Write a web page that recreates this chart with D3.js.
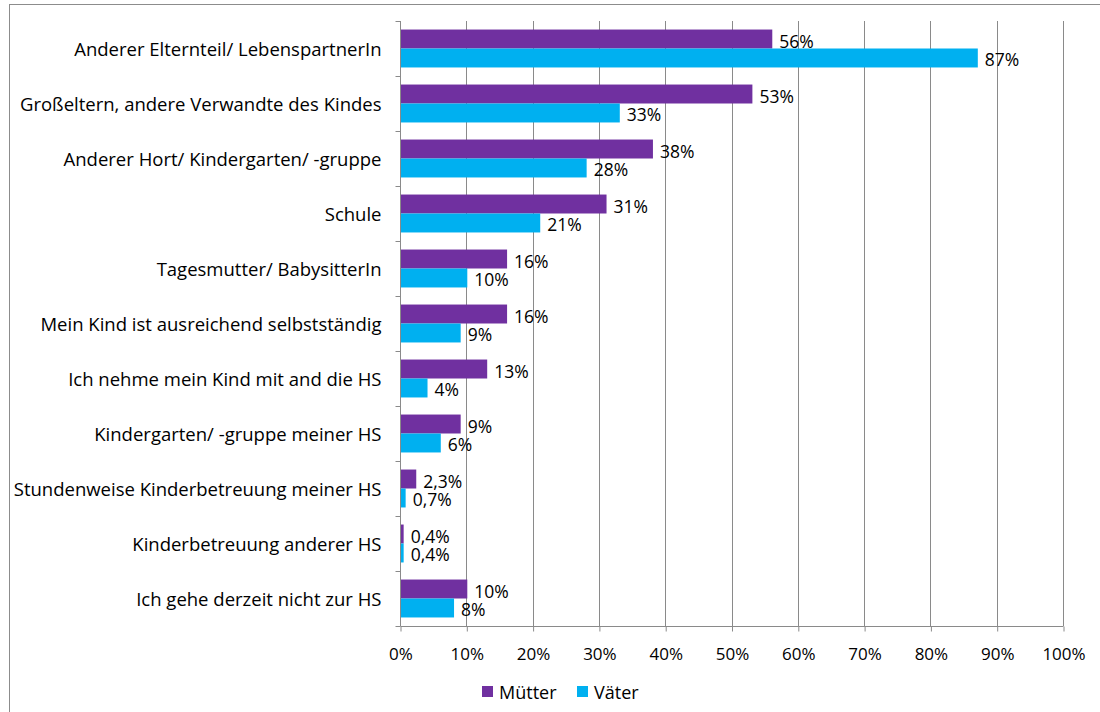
<!DOCTYPE html>
<html>
<head>
<meta charset="utf-8">
<script src="https://cdn.jsdelivr.net/npm/d3@7"></script>
<style>
  html, body { margin: 0; padding: 0; background: #fff; }
  svg { display: block; }
  text { font-family: "Open Sans", Lato, sans-serif; fill: #000; }
</style>
</head>
<body>
<div id="chart"></div>
<script>
// Betreuungsformen – Anteil der Nennungen nach Elternteil
const categories = [
  "Anderer Elternteil/ LebenspartnerIn",
  "Großeltern, andere Verwandte des Kindes",
  "Anderer Hort/ Kindergarten/ -gruppe",
  "Schule",
  "Tagesmutter/ BabysitterIn",
  "Mein Kind ist ausreichend selbstständig",
  "Ich nehme mein Kind mit and die HS",
  "Kindergarten/ -gruppe meiner HS",
  "Stundenweise Kinderbetreuung meiner HS",
  "Kinderbetreuung anderer HS",
  "Ich gehe derzeit nicht zur HS"
];
const muetter = [56, 53, 38, 31, 16, 16, 13, 9, 2.3, 0.4, 10];
const vaeter  = [87, 33, 28, 21, 10, 9, 4, 6, 0.7, 0.4, 8];
const seriesNames = ["Mütter", "Väter"];
const seriesColors = ["#7030A0", "#00B0F0"];
const xTicks = [0, 10, 20, 30, 40, 50, 60, 70, 80, 90, 100];

const W = 1100, H = 712;
const margin = { left: 400, right: 37, top: 21, bottom: 86 };

const svg = d3.select("#chart").append("svg")
  .attr("width", W).attr("height", H);

// outer chart frame
svg.append("rect")
  .attr("x", 9.5).attr("y", 4.5)
  .attr("width", W).attr("height", H)
  .attr("fill", "none").attr("stroke", "#8c8c8c").attr("stroke-width", 1);

const x = d3.scaleLinear().domain([0, 100]).range([margin.left, W - margin.right]);
const y = d3.scaleBand().domain(categories).range([margin.top, H - margin.bottom]).paddingInner(0).paddingOuter(0);
const inner = d3.scaleBand().domain(seriesNames).range([0, y.bandwidth()]).paddingInner(0).paddingOuter(0.45);

const fmt = v => (Number.isInteger(v) ? d3.format("d")(v) : d3.format(".1f")(v).replace(".", ",")) + "%";

// vertical gridlines
svg.append("g").selectAll("line").data(xTicks.slice(1)).join("line")
  .attr("x1", d => Math.round(x(d)) + 0.5).attr("x2", d => Math.round(x(d)) + 0.5)
  .attr("y1", margin.top).attr("y2", H - margin.bottom)
  .attr("stroke", "#8a8a8a").attr("stroke-width", 1);

// bottom axis
const xAxis = svg.append("g")
  .attr("transform", `translate(0.5,${H - margin.bottom + 0.5})`)
  .call(d3.axisBottom(x).tickValues(xTicks).tickFormat(d => d + "%").tickSize(5).tickPadding(16));
xAxis.select(".domain").attr("stroke", "#8a8a8a").attr("d", `M${x(0)},0H${x(100)}`);
xAxis.selectAll(".tick line").attr("stroke", "#8a8a8a");
xAxis.selectAll(".tick text").style("font-family", "'Open Sans', sans-serif").style("font-size", "17px").attr("fill", "#000");

// left axis with category ticks at band boundaries
const yAxisG = svg.append("g").attr("transform", `translate(${x(0) + 0.5},0)`);
yAxisG.append("line")
  .attr("x1", 0).attr("x2", 0).attr("y1", margin.top).attr("y2", H - margin.bottom)
  .attr("stroke", "#8a8a8a");
const bounds = categories.map(c => y(c)).concat([y(categories[categories.length - 1]) + y.bandwidth()]);
yAxisG.selectAll("line.tk").data(bounds).join("line").attr("class", "tk")
  .attr("x1", -5).attr("x2", 0)
  .attr("y1", d => Math.round(d) + 0.5).attr("y2", d => Math.round(d) + 0.5)
  .attr("stroke", "#8a8a8a");
yAxisG.selectAll("text").data(categories).join("text")
  .attr("x", -19).attr("y", d => y(d) + y.bandwidth() / 2)
  .attr("text-anchor", "end").attr("dominant-baseline", "central")
  .style("font-size", "18.5px")
  .text(d => d);

// bars
const rows = categories.map((c, i) => ({ cat: c, values: [muetter[i], vaeter[i]] }));
const groups = svg.append("g").selectAll("g").data(rows).join("g")
  .attr("transform", d => `translate(0,${y(d.cat)})`);

groups.selectAll("rect").data(d => d.values.map((v, j) => ({ v, s: seriesNames[j], j }))).join("rect")
  .attr("x", x(0) + 1)
  .attr("y", d => inner(d.s))
  .attr("width", d => x(d.v) - x(0))
  .attr("height", inner.bandwidth())
  .attr("fill", d => seriesColors[d.j]);

groups.selectAll("text").data(d => d.values.map((v, j) => ({ v, s: seriesNames[j], j }))).join("text")
  .attr("x", d => x(d.v) + 8)
  .attr("y", d => inner(d.s) + inner.bandwidth() / 2 + 1.5)
  .attr("dominant-baseline", "central")
  .style("font-size", "17.5px")
  .text(d => fmt(d.v));

// legend
const legend = svg.append("g").attr("transform", "translate(482,686)");
const li = legend.selectAll("g").data(seriesNames).join("g")
  .attr("transform", (d, i) => `translate(${i * 95},0)`);
li.append("rect").attr("width", 11).attr("height", 11).attr("fill", (d, i) => seriesColors[i]);
li.append("text").attr("x", 17).attr("y", 6).attr("dominant-baseline", "central")
  .style("font-size", "18px").text(d => d);
</script>
</body>
</html>
